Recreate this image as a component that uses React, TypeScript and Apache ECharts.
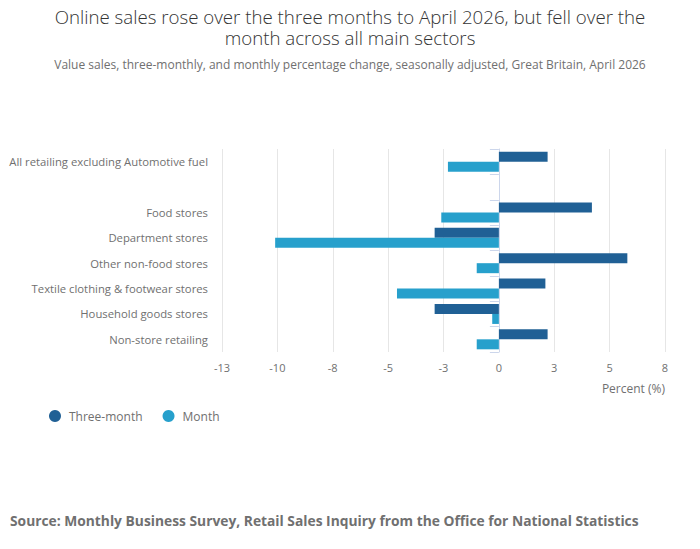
import React, { useEffect, useRef } from "react";
import * as echarts from "echarts";

const categories = [
  "All retailing excluding Automotive fuel",
  "",
  "Food stores",
  "Department stores",
  "Other non-food stores",
  "Textile clothing & footwear stores",
  "Household goods stores",
  "Non-store retailing",
];
const threeMonth: (number | null)[] = [2.2, null, 4.2, -2.9, 5.8, 2.1, -2.9, 2.2];
const month: (number | null)[] = [-2.3, null, -2.6, -10.1, -1.0, -4.6, -0.3, -1.0];
const seriesNames = ["Three-month", "Month"];
const titleLines = [
  "Online sales rose over the three months to April 2026, but fell over the",
  "month across all main sectors",
];

const FONT = "'Open Sans', 'Noto Sans', sans-serif";

export default function App() {
  const ref = useRef<HTMLDivElement>(null);
  useEffect(() => {
    document.body.style.margin = "0";
    if (!ref.current) return;
    const chart = echarts.init(ref.current, undefined, { renderer: "svg" });
    const titleStyle = { fontSize: 18.7, lineHeight: 21, fontWeight: 300, color: "#333333", fontFamily: FONT };
    chart.setOption({
      animation: false,
      textStyle: { fontFamily: FONT },
      title: [
        ...titleLines.map((t, i) => ({
          text: t,
          left: 350,
          top: 6 + i * 21,
          padding: 0,
          textAlign: "center",
          textStyle: titleStyle,
        })),
        {
          text: "Value sales, three-monthly, and monthly percentage change, seasonally adjusted, Great Britain, April 2026",
          left: 350,
          textAlign: "center",
          top: 58,
          padding: 0,
          textStyle: { fontSize: 12, fontWeight: "normal", color: "#707070", fontFamily: FONT },
        },
        {
          text: "Source: Monthly Business Survey, Retail Sales Inquiry from the Office for National Statistics",
          left: 10,
          top: 513,
          padding: 0,
          textStyle: { fontSize: 13.8, fontWeight: "bold", color: "#707070", fontFamily: FONT },
        },
      ],
      legend: {
        data: seriesNames,
        left: 49,
        top: 410,
        icon: "circle",
        itemWidth: 12,
        itemHeight: 12,
        itemGap: 20,
        padding: 0,
        textStyle: { fontSize: 12, color: "#707070", fontFamily: FONT, padding: [0, 0, 0, 3] },
      },
      grid: { left: 222, right: 35, top: 149, bottom: 197, containLabel: false },
      xAxis: {
        type: "value",
        min: -12.5,
        max: 7.5,
        interval: 2.5,
        name: "Percent (%)",
        nameLocation: "end",
        nameGap: 0,
        nameTextStyle: { align: "right", verticalAlign: "top", padding: [30, 0, 0, 0], fontSize: 12, color: "#707070" },
        axisLine: { show: false },
        axisTick: { show: false },
        axisLabel: {
          fontSize: 11,
          color: "#707070",
          margin: 10,
          formatter: (v: number) => String(Math.sign(v) * Math.round(Math.abs(v))),
        },
        splitLine: { show: true, lineStyle: { color: "#e6e6e6", width: 1 } },
      },
      yAxis: {
        type: "category",
        data: categories,
        inverse: true,
        axisLine: { show: true, lineStyle: { color: "#ccd6eb" } },
        axisTick: { show: true, length: 9, lineStyle: { color: "#ccd6eb" } },
        axisLabel: { fontSize: 11.3, color: "#707070", margin: 14 },
        splitLine: { show: false },
      },
      series: [
        {
          name: seriesNames[0],
          type: "bar",
          data: threeMonth,
          barWidth: 10,
          barGap: "0%",
          itemStyle: { color: "#206095" },
        },
        {
          name: seriesNames[1],
          type: "bar",
          data: month,
          barWidth: 10,
          barGap: "0%",
          itemStyle: { color: "#27a0cc" },
        },
      ],
    });
    return () => chart.dispose();
  }, []);
  return <div ref={ref} style={{ width: 700, height: 549 }} />;
}
